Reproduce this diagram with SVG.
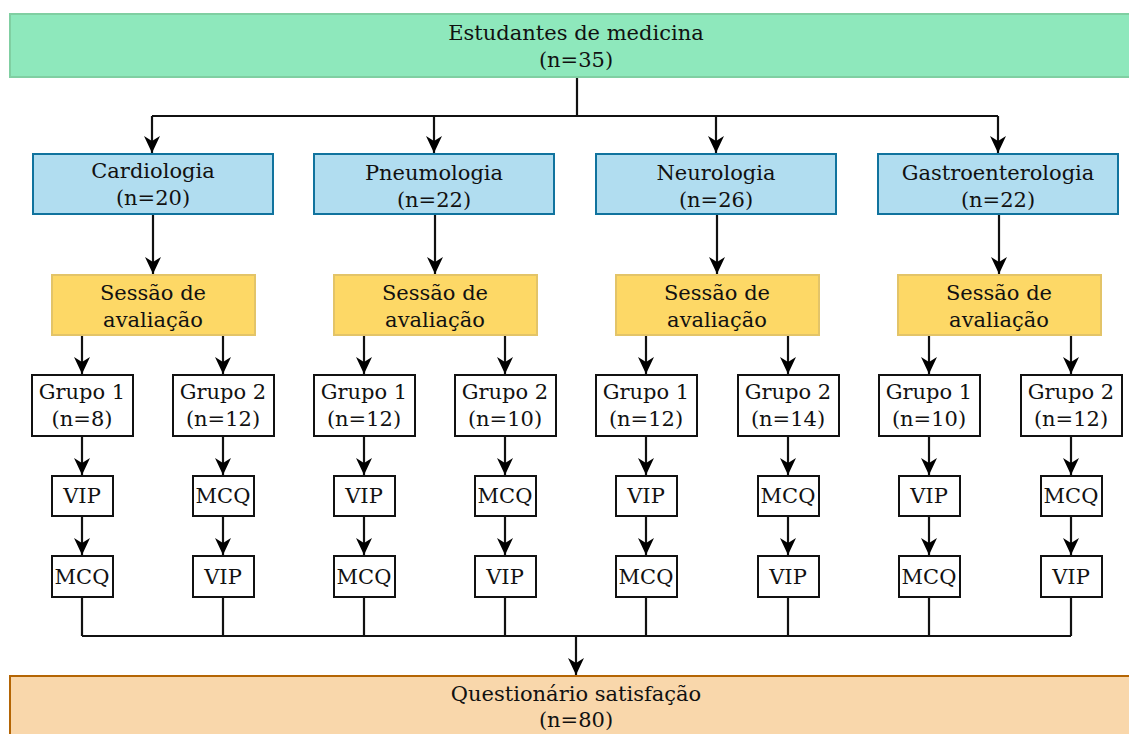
<svg xmlns="http://www.w3.org/2000/svg" width="1129" height="734" viewBox="0 0 1129 734">
<defs>
<marker id="ah" markerWidth="20" markerHeight="18" refX="17" refY="8" orient="auto" markerUnits="userSpaceOnUse">
<path d="M0,0 L17,8 L0,16 L5,8 Z" fill="#000"/>
</marker>
<style>
text{font-family:"DejaVu Serif","Liberation Serif",serif;font-size:21px;fill:#111;text-anchor:middle}
.top{fill:#8ee8bc;stroke:#80cfa2;stroke-width:2}
.spec{fill:#b1ddf0;stroke:#10739e;stroke-width:2}
.ses{fill:#fdd866;stroke:#e3c468;stroke-width:2}
.box{fill:#fff;stroke:#111;stroke-width:2}
.bot{fill:#f9d7ab;stroke:#b46504;stroke-width:2}
.ln{fill:none;stroke:#111;stroke-width:2.2}
.ar{fill:none;stroke:#111;stroke-width:2.2;marker-end:url(#ah)}
</style>
</defs>
<g id="connectors">
<path class="ln" d="M577,77 V116 M152,116 H998"/>
<path class="ar" d="M152,116 V153"/>
<path class="ar" d="M434,116 V153"/>
<path class="ar" d="M716,116 V153"/>
<path class="ar" d="M998,116 V153"/>
<path class="ar" d="M153,214 V274"/>
<path class="ar" d="M435,214 V274"/>
<path class="ar" d="M717,214 V274"/>
<path class="ar" d="M999,214 V274"/>
<path class="ar" d="M82,335 V374"/><path class="ar" d="M82,437 V475"/><path class="ar" d="M82,516 V555"/>
<path class="ar" d="M223,335 V374"/><path class="ar" d="M223,437 V475"/><path class="ar" d="M223,516 V555"/>
<path class="ar" d="M364,335 V374"/><path class="ar" d="M364,437 V475"/><path class="ar" d="M364,516 V555"/>
<path class="ar" d="M505,335 V374"/><path class="ar" d="M505,437 V475"/><path class="ar" d="M505,516 V555"/>
<path class="ar" d="M646,335 V374"/><path class="ar" d="M646,437 V475"/><path class="ar" d="M646,516 V555"/>
<path class="ar" d="M788,335 V374"/><path class="ar" d="M788,437 V475"/><path class="ar" d="M788,516 V555"/>
<path class="ar" d="M929,335 V374"/><path class="ar" d="M929,437 V475"/><path class="ar" d="M929,516 V555"/>
<path class="ar" d="M1071,335 V374"/><path class="ar" d="M1071,437 V475"/><path class="ar" d="M1071,516 V555"/>
<path class="ln" d="M82,597 V636 M223,597 V636 M364,597 V636 M505,597 V636 M646,597 V636 M788,597 V636 M929,597 V636 M1071,597 V636 M82,636 H1071"/>
<path class="ar" d="M576,636 V675"/>
</g>
<g id="n-top"><rect class="top" x="10" y="14" width="1130" height="63"/><text x="576" y="40">Estudantes de medicina</text><text x="576" y="67">(n=35)</text></g>
<g id="n-cardio"><rect class="spec" x="33" y="154" width="240" height="60"/><text x="153" y="178">Cardiologia</text><text x="153" y="205">(n=20)</text></g>
<g id="n-pneumo"><rect class="spec" x="314" y="154" width="240" height="60"/><text x="434" y="180">Pneumologia</text><text x="434" y="207">(n=22)</text></g>
<g id="n-neuro"><rect class="spec" x="596" y="154" width="240" height="60"/><text x="716" y="180">Neurologia</text><text x="716" y="207">(n=26)</text></g>
<g id="n-gastro"><rect class="spec" x="878" y="154" width="240" height="60"/><text x="998" y="180">Gastroenterologia</text><text x="998" y="207">(n=22)</text></g>
<g id="n-ses1"><rect class="ses" x="52" y="275" width="203" height="60"/><text x="153" y="300">Sessão de</text><text x="153" y="327">avaliação</text></g>
<g id="n-ses2"><rect class="ses" x="334" y="275" width="203" height="60"/><text x="435" y="300">Sessão de</text><text x="435" y="327">avaliação</text></g>
<g id="n-ses3"><rect class="ses" x="616" y="275" width="203" height="60"/><text x="717" y="300">Sessão de</text><text x="717" y="327">avaliação</text></g>
<g id="n-ses4"><rect class="ses" x="898" y="275" width="203" height="60"/><text x="999" y="300">Sessão de</text><text x="999" y="327">avaliação</text></g>
<g id="n-c-g1"><rect class="box" x="32" y="375" width="101" height="61"/><text x="82" y="399">Grupo 1</text><text x="82" y="426">(n=8)</text></g>
<g id="n-c-g2"><rect class="box" x="173" y="375" width="101" height="61"/><text x="223" y="399">Grupo 2</text><text x="223" y="426">(n=12)</text></g>
<g id="n-p-g1"><rect class="box" x="314" y="375" width="101" height="61"/><text x="364" y="399">Grupo 1</text><text x="364" y="426">(n=12)</text></g>
<g id="n-p-g2"><rect class="box" x="455" y="375" width="101" height="61"/><text x="505" y="399">Grupo 2</text><text x="505" y="426">(n=10)</text></g>
<g id="n-n-g1"><rect class="box" x="596" y="375" width="101" height="61"/><text x="646" y="399">Grupo 1</text><text x="646" y="426">(n=12)</text></g>
<g id="n-n-g2"><rect class="box" x="738" y="375" width="101" height="61"/><text x="788" y="399">Grupo 2</text><text x="788" y="426">(n=14)</text></g>
<g id="n-g-g1"><rect class="box" x="879" y="375" width="101" height="61"/><text x="929" y="399">Grupo 1</text><text x="929" y="426">(n=10)</text></g>
<g id="n-g-g2"><rect class="box" x="1021" y="375" width="101" height="61"/><text x="1071" y="399">Grupo 2</text><text x="1071" y="426">(n=12)</text></g>
<g id="n-c-a1"><rect class="box" x="52" y="476" width="61" height="40"/><text x="82" y="503">VIP</text></g>
<g id="n-c-a2"><rect class="box" x="52" y="556" width="61" height="41"/><text x="82" y="584">MCQ</text></g>
<g id="n-c-b1"><rect class="box" x="193" y="476" width="61" height="40"/><text x="223" y="503">MCQ</text></g>
<g id="n-c-b2"><rect class="box" x="193" y="556" width="61" height="41"/><text x="223" y="584">VIP</text></g>
<g id="n-p-a1"><rect class="box" x="334" y="476" width="61" height="40"/><text x="364" y="503">VIP</text></g>
<g id="n-p-a2"><rect class="box" x="334" y="556" width="61" height="41"/><text x="364" y="584">MCQ</text></g>
<g id="n-p-b1"><rect class="box" x="475" y="476" width="61" height="40"/><text x="505" y="503">MCQ</text></g>
<g id="n-p-b2"><rect class="box" x="475" y="556" width="61" height="41"/><text x="505" y="584">VIP</text></g>
<g id="n-n-a1"><rect class="box" x="616" y="476" width="61" height="40"/><text x="646" y="503">VIP</text></g>
<g id="n-n-a2"><rect class="box" x="616" y="556" width="61" height="41"/><text x="646" y="584">MCQ</text></g>
<g id="n-n-b1"><rect class="box" x="758" y="476" width="61" height="40"/><text x="788" y="503">MCQ</text></g>
<g id="n-n-b2"><rect class="box" x="758" y="556" width="61" height="41"/><text x="788" y="584">VIP</text></g>
<g id="n-g-a1"><rect class="box" x="899" y="476" width="61" height="40"/><text x="929" y="503">VIP</text></g>
<g id="n-g-a2"><rect class="box" x="899" y="556" width="61" height="41"/><text x="929" y="584">MCQ</text></g>
<g id="n-g-b1"><rect class="box" x="1041" y="476" width="61" height="40"/><text x="1071" y="503">MCQ</text></g>
<g id="n-g-b2"><rect class="box" x="1041" y="556" width="61" height="41"/><text x="1071" y="584">VIP</text></g>
<g id="n-bottom"><rect class="bot" x="10" y="676" width="1130" height="70"/><text x="576" y="701">Questionário satisfação</text><text x="576" y="727">(n=80)</text></g>
</svg>
